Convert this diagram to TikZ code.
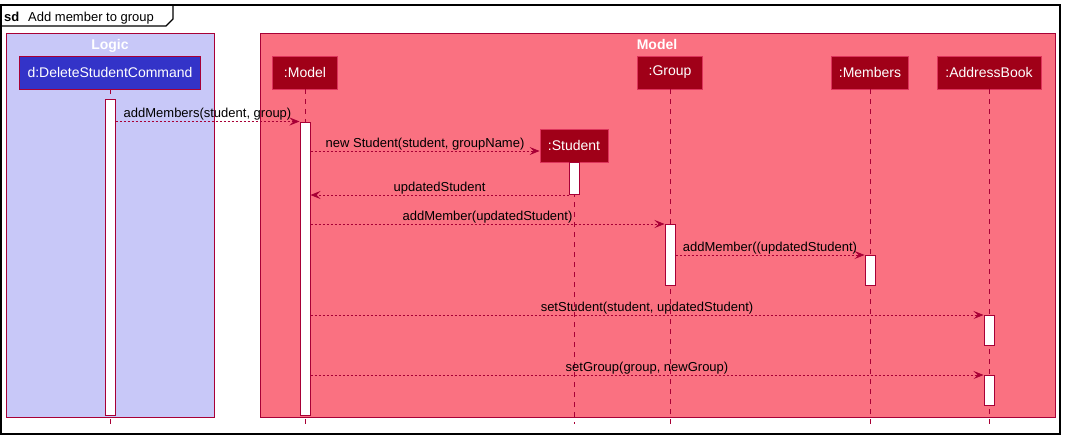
\documentclass[tikz,border=0pt]{standalone}
\usepackage{fontspec}
\setmainfont{Liberation Sans}
\usepackage{tikz}
\usetikzlibrary{arrows.meta, positioning, calc}
\definecolor{umlborder}{RGB}{168,0,54}
\definecolor{partborder}{RGB}{222,52,92}
\definecolor{partred}{RGB}{160,0,24}
\definecolor{cmdblue}{RGB}{51,51,200}
\definecolor{logicfill}{RGB}{200,200,248}
\definecolor{modelfill}{RGB}{250,113,129}
\tikzset{
  frameline/.style={draw=black, line width=1.2pt},
  groupbox/.style={
    rectangle, draw=umlborder, line width=1pt,
    anchor=north west, inner sep=0pt
  },
  grouptitle/.style={
    font=\fontsize{14}{16}\selectfont\bfseries, text=white,
    anchor=base, inner sep=0pt
  },
  participant/.style={
    rectangle, draw=partborder, fill=partred, text=white, line width=0.8pt,
    minimum height=33pt, inner sep=0pt,
    font=\fontsize{14}{16}\selectfont
  },
  lifeline/.style={draw=umlborder, line width=0.8pt, dash pattern=on 5pt off 5pt},
  actbar/.style={
    rectangle, draw=umlborder, fill=white, line width=1pt,
    minimum width=10pt, inner sep=0pt, anchor=north
  },
  message/.style={
    draw=umlborder, line width=0.8pt, dash pattern=on 2pt off 2pt,
    -{Stealth[length=10pt, width=8pt, inset=4pt]}
  },
  msglabel/.style={font=\fontsize{13}{15}\selectfont, anchor=base, yshift=4pt, inner sep=0pt},
}

\begin{document}
\begin{tikzpicture}[x=1pt, y=-1pt]
  \useasboundingbox (0,0) rectangle (1065,439);

  % frame and title tab
  \draw [frameline] (1,5) rectangle (1060,434);
  \draw [frameline] (1,26) -- (166,26) -- (173,19) -- (173,5);
  \node (sdkey)   [anchor=base west, inner sep=0pt, font=\fontsize{13}{15}\selectfont\bfseries] at (4,21) {sd};
  \node (sdtitle) [anchor=base west, inner sep=0pt, font=\fontsize{13}{15}\selectfont] at (28,21) {Add member to group};

  % boxes
  \node (logicbox) [groupbox, fill=logicfill, minimum width=208pt, minimum height=384pt] at (6,33) {};
  \node (modelbox) [groupbox, fill=modelfill, minimum width=795pt, minimum height=384pt] at (260,33) {};
  \node (logictitle) [grouptitle] at (110,49) {Logic};
  \node (modeltitle) [grouptitle] at (657,49) {Model};

  % participants
  \node (cmd)     [participant, fill=cmdblue, draw=umlborder, minimum width=181pt] at (110,72.5) {d:DeleteStudentCommand};
  \node (model)   [participant, minimum width=65pt]  at (305,72.5)  {:Model};
  \node (student) [participant, minimum width=68pt]  at (574,145.5) {:Student};
  \node (group)   [participant, minimum width=65pt]  at (670,72.5)  {:Group};
  \node (members) [participant, minimum width=77pt]  at (870,72.5)  {:Members};
  \node (book)    [participant, minimum width=104pt] at (989,72.5)  {:AddressBook};

  % lifelines
  \coordinate (lifeend) at (0,424);
  \foreach \p in {cmd, model, student, group, members, book}
    \draw [lifeline] (\p.south) -- (\p.south |- lifeend);

  % activations
  \node (cmdbar)   [actbar, minimum height=316pt]   at (110,99)  {};
  \node (modelbar) [actbar, minimum height=293.5pt] at (305,121.5) {};
  \node (studbar)  [actbar, minimum height=32pt]    at (574,162) {};
  \node (grpbar)   [actbar, minimum height=61pt]    at (670,224) {};
  \node (membar)   [actbar, minimum height=30pt]    at (870,255) {};
  \node (bookbara) [actbar, minimum height=30pt]    at (989,315) {};
  \node (bookbarb) [actbar, minimum height=30pt]    at (989,375) {};

  % messages
  \coordinate (newmsg) at (0,151);
  \draw [message] (cmdbar.east |- modelbar.north) -- node[msglabel]{addMembers(student, group)} (modelbar.north west);
  \draw [message] (modelbar.east |- newmsg) -- node[msglabel]{new Student(student, groupName)} (student.west |- newmsg);
  \draw [message] (studbar.south west) -- node[msglabel]{updatedStudent} (modelbar.east |- studbar.south);
  \draw [message] (modelbar.east |- grpbar.north) -- node[msglabel]{addMember(updatedStudent)} (grpbar.north west);
  \draw [message] (grpbar.east |- membar.north) -- node[msglabel]{addMember((updatedStudent)} (membar.north west);
  \draw [message] (modelbar.east |- bookbara.north) -- node[msglabel]{setStudent(student, updatedStudent)} (bookbara.north west);
  \draw [message] (modelbar.east |- bookbarb.north) -- node[msglabel]{setGroup(group, newGroup)} (bookbarb.north west);
\end{tikzpicture}
\end{document}
